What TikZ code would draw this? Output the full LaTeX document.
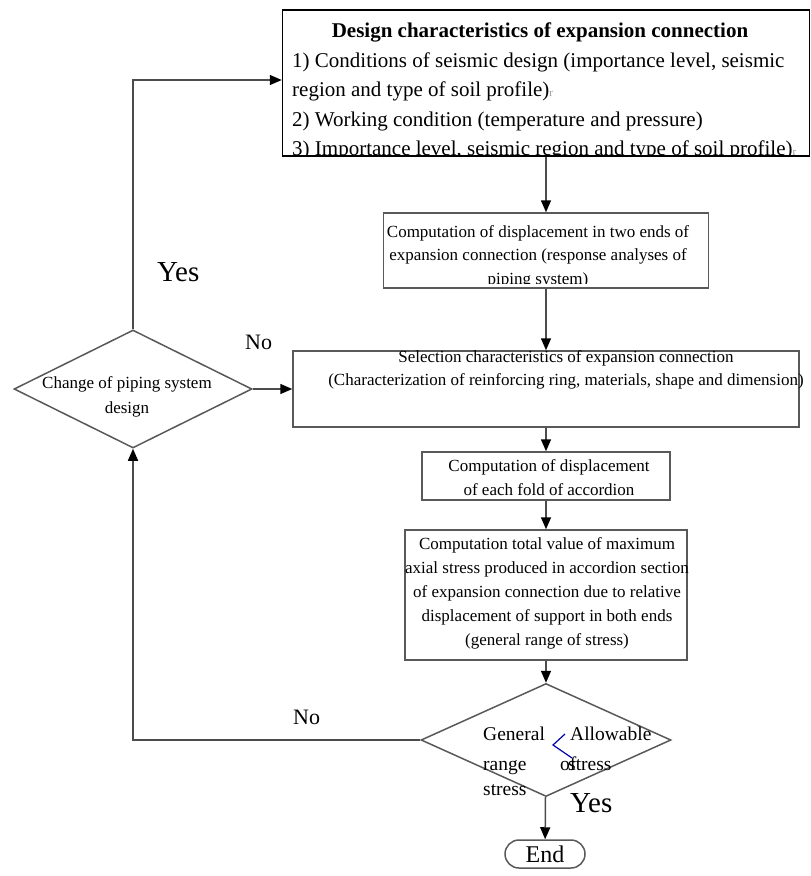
\documentclass[tikz,border=0pt]{standalone}
\usepackage{fontspec}
\setmainfont{Liberation Serif}
\usetikzlibrary{shapes.geometric, arrows.meta}
\newcommand{\fsz}[1]{\fontsize{#1}{#1}\selectfont}

\begin{document}
\begin{tikzpicture}[x=1pt, y=-1pt,
  flow/.style={draw=black!70, line width=1.5pt, -{Triangle[length=12pt, width=10pt, color=black]}},
  stepbox/.style={draw=black!65, line width=1.5pt, inner sep=0pt},
  decision/.style={diamond, draw=black!65, line width=1.5pt, inner sep=0pt},
  body/.style={inner sep=0pt, anchor=base, font=\fsz{17}},
  answer/.style={inner sep=0pt, anchor=base west}]
  \useasboundingbox (0,0) rectangle (811,876);

  % boxes and decisions
  \node[stepbox, draw=black, minimum width=527pt, minimum height=146pt] (design) at (546,83) {};
  \node[stepbox, minimum width=325pt, minimum height=75pt] (disp) at (546,250.5) {};
  \node[stepbox, minimum width=506pt, minimum height=76pt] (select) at (546,389) {};
  \node[stepbox, minimum width=248pt, minimum height=48pt] (fold) at (546,476) {};
  \node[stepbox, minimum width=282pt, minimum height=130pt] (stress) at (546,595) {};
  \node[decision, minimum width=250pt, minimum height=113pt] (check) at (546,740) {};
  \node[stepbox, rounded corners=14pt, minimum width=80pt, minimum height=28pt,
    text height=16pt, text depth=0pt, font=\fsz{24}] (end) at (545,854) {End};
  \node[decision, minimum width=238pt, minimum height=118pt] (change) at (133,389) {};

  % texts
  \node[body, font=\fsz{21}\bfseries] (title) at (540,37) {Design characteristics of expansion connection};
  \begin{scope}
    \clip ([yshift=1pt]design.south west) rectangle (design.north east);
    \foreach \t [count=\i] in {{1) Conditions of seismic design (importance level, seismic},
        {region and type of soil profile){\color{black!40}\fsz{11}r}},
        {2) Working condition (temperature and pressure)},
        {3) Importance level, seismic region and type of soil profile){\color{black!40}\fsz{11}r}}}
      \node[body, anchor=base west, font=\fsz{21}] (cond\i) at (292,{67+29.5*(\i-1)}) {\t};
  \end{scope}
  \begin{scope}
    \clip ([yshift=5pt]disp.south west) rectangle (disp.north east);
    \foreach \t [count=\i] in {{Computation of displacement in two ends of},
        {expansion connection (response analyses of}, {piping system)}}
      \node[body] (disp\i) at (538,{237+23.5*(\i-1)}) {\t};
  \end{scope}
  \foreach \t [count=\i] in {{Selection characteristics of expansion connection},
      {(Characterization of reinforcing ring, materials, shape and dimension)}}
    \node[body] (sel\i) at (566,{362+23.5*(\i-1)}) {\t};
  \foreach \t [count=\i] in {{Computation of displacement}, {of each fold of accordion}}
    \node[body] (fold\i) at (549,{471+24*(\i-1)}) {\t};
  \foreach \t [count=\i] in {{Computation total value of maximum},
      {axial stress produced in accordion section},
      {of expansion connection due to relative},
      {displacement of support in both ends},
      {(general range of stress)}}
    \node[body] (str\i) at (547,{549+24*(\i-1)}) {\t};
  \node[body] (chg1) at (127,388) {Change of piping system};
  \node[body] (chg2) at (127,413.5) {design};

  % decision texts
  \node[answer, font=\fsz{19.5}] (gen1) at (483,740) {General};
  \node[answer, font=\fsz{19.5}] (gen2) at (483,770) {range};
  \node[answer, font=\fsz{19.5}] (gen3) at (483,795) {stress};
  \node[answer, font=\fsz{19.5}] (all1) at (570,740) {Allowable};
  \node[answer, font=\fsz{19.5}] (all2) at (560,770) {of};
  \node[answer, font=\fsz{19.5}] (all3) at (568,770) {stress};
  \draw[blue!70!black, line width=1.2pt] (565,734) -- (553,745) -- (572,758);

  % connectors
  \draw[flow] (design) -- (disp);
  \draw[flow] (disp) -- (select);
  \draw[flow] (select) -- (fold);
  \draw[flow] (fold) -- (stress);
  \draw[flow] (stress) -- (check);
  \draw[flow] (check) -- (end);
  \draw[flow] (change) -- (select);
  \draw[flow] (change.north) |- ([yshift=3pt]design.west);
  \draw[flow] (check.west) -| (change.south);

  % answers
  \node[answer, font=\fsz{29}] (yes1) at (157,281) {Yes};
  \node[answer, font=\fsz{22}] (no1) at (245,349) {No};
  \node[answer, font=\fsz{22}] (no2) at (293,724) {No};
  \node[answer, font=\fsz{29}] (yes2) at (570,812) {Yes};
\end{tikzpicture}
\end{document}
